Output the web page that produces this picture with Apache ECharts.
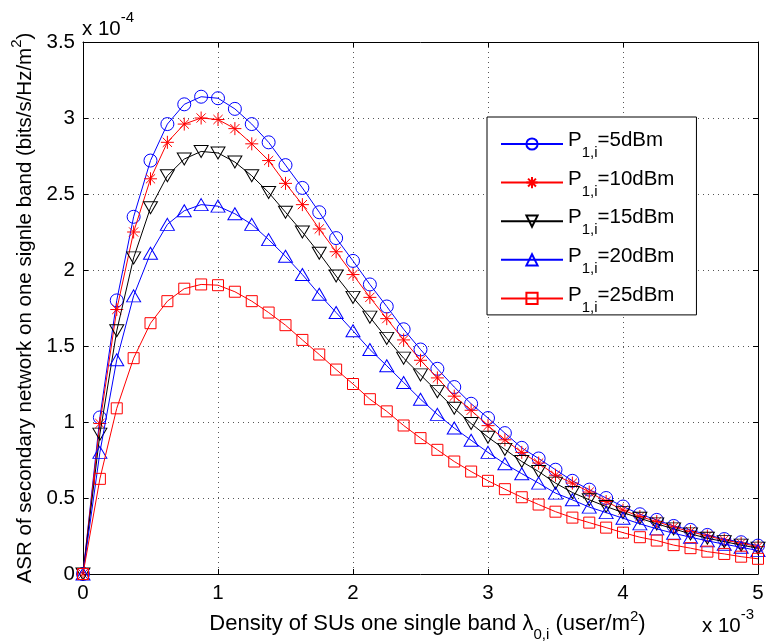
<!DOCTYPE html>
<html>
<head>
<meta charset="utf-8">
<script src="https://cdn.jsdelivr.net/npm/echarts@6/dist/echarts.min.js"></script>
<style>
html,body{margin:0;padding:0;background:#fff;}
#chart{width:766px;height:642px;}
</style>
</head>
<body>
<div id="chart"></div>
<script>
// Density of SUs (x 10^-3 user/m^2)
const densities = [0, 0.125, 0.25, 0.375, 0.5, 0.625, 0.75, 0.875, 1, 1.125, 1.25, 1.375, 1.5, 1.625, 1.75, 1.875, 2, 2.125, 2.25, 2.375, 2.5, 2.625, 2.75, 2.875, 3, 3.125, 3.25, 3.375, 3.5, 3.625, 3.75, 3.875, 4, 4.125, 4.25, 4.375, 4.5, 4.625, 4.75, 4.875, 5];
// ASR (x 10^-4 bits/s/Hz/m^2)
const asr5dBm = [0, 1.03, 1.80, 2.35, 2.72, 2.96, 3.09, 3.14, 3.13, 3.06, 2.96, 2.84, 2.69, 2.54, 2.38, 2.21, 2.06, 1.905, 1.76, 1.61, 1.477, 1.35, 1.23, 1.12, 1.026, 0.927, 0.83, 0.76, 0.686, 0.613, 0.555, 0.50, 0.444, 0.393, 0.356, 0.316, 0.29, 0.257, 0.23, 0.209, 0.187];
const asr10dBm = [0, 0.99, 1.74, 2.25, 2.60, 2.84, 2.96, 3.00, 2.99, 2.93, 2.83, 2.72, 2.57, 2.43, 2.27, 2.12, 1.97, 1.82, 1.68, 1.54, 1.406, 1.29, 1.17, 1.077, 0.976, 0.883, 0.80, 0.73, 0.65, 0.598, 0.539, 0.477, 0.42, 0.378, 0.345, 0.308, 0.279, 0.25, 0.224, 0.202, 0.18];
const asr15dBm = [0, 0.92, 1.60, 2.08, 2.41, 2.62, 2.73, 2.78, 2.77, 2.71, 2.62, 2.51, 2.38, 2.25, 2.11, 1.96, 1.82, 1.69, 1.55, 1.42, 1.31, 1.20, 1.09, 0.99, 0.90, 0.82, 0.74, 0.674, 0.598, 0.536, 0.488, 0.444, 0.404, 0.367, 0.33, 0.297, 0.264, 0.235, 0.213, 0.19, 0.17];
const asr20dBm = [0, 0.80, 1.41, 1.83, 2.11, 2.30, 2.39, 2.43, 2.42, 2.37, 2.30, 2.20, 2.09, 1.97, 1.84, 1.72, 1.60, 1.477, 1.37, 1.26, 1.15, 1.05, 0.96, 0.88, 0.80, 0.725, 0.66, 0.598, 0.532, 0.488, 0.44, 0.404, 0.367, 0.33, 0.297, 0.268, 0.242, 0.218, 0.196, 0.176, 0.154];
const asr25dBm = [0, 0.626, 1.09, 1.42, 1.65, 1.795, 1.877, 1.905, 1.90, 1.857, 1.795, 1.72, 1.637, 1.54, 1.444, 1.345, 1.25, 1.15, 1.07, 0.977, 0.894, 0.817, 0.74, 0.674, 0.613, 0.558, 0.505, 0.457, 0.41, 0.371, 0.338, 0.305, 0.272, 0.242, 0.22, 0.19, 0.17, 0.147, 0.132, 0.114, 0.10];
const powerLabels = ['5dBm', '10dBm', '15dBm', '20dBm', '25dBm'];
const xTickLabels = ['0', '1', '2', '3', '4', '5'];
const yTickLabels = ['0', '0.5', '1', '1.5', '2', '2.5', '3', '3.5'];

const FONT = 'Liberation Sans, Arial, Helvetica, sans-serif';
const FS_TICK = 20.5;
const FS_X = 22;
const FS_Y = 20.5;
const FS_LEG = 20.5;
const FS_SUB = 15;

const STAR = 'path://M0,-10L0,10M-10,0L10,0M-7.07,-7.07L7.07,7.07M-7.07,7.07L7.07,-7.07';
const TRI_UP = 'path://M0,-10L10,8L-10,8Z';
const TRI_DOWN = 'path://M-10,-8L10,-8L0,10Z';

const seriesDefs = [
  {data: asr5dBm, color: '#0000ff', symbol: 'circle', size: 13},
  {data: asr10dBm, color: '#ff0000', symbol: STAR, size: 13},
  {data: asr15dBm, color: '#000000', symbol: TRI_DOWN, size: [14, 12]},
  {data: asr20dBm, color: '#0000ff', symbol: TRI_UP, size: [14, 12]},
  {data: asr25dBm, color: '#ff0000', symbol: 'rect', size: 11}
];

const series = seriesDefs.map((d, k) => ({
  name: 'P1,i=' + powerLabels[k],
  type: 'line',
  data: densities.map((x, i) => [x, d.data[i]]),
  symbol: d.symbol,
  symbolSize: d.size,
  showAllSymbol: true,
  lineStyle: {color: d.color, width: 1},
  itemStyle: {color: 'rgba(0,0,0,0)', borderColor: d.color, borderWidth: 1},
  emphasis: {disabled: true},
  clip: false,
  z: 2 + k
}));

const tickFmt = (labels, step) => (v) => {
  const i = Math.round(v / step);
  return labels[i] !== undefined ? labels[i] : '';
};

const gridLine = {show: true, lineStyle: {color: '#555', width: 1, type: [1, 4]}};

const chart = echarts.init(document.getElementById('chart'), null, {renderer: 'canvas'});
chart.setOption({
  animation: false,
  backgroundColor: '#fff',
  textStyle: {fontFamily: FONT},
  grid: {left: 83, right: 8, top: 42, bottom: 68, containLabel: false, outerBoundsMode: 'none'},
  xAxis: [{
    type: 'value', min: 0, max: 5, interval: 1, position: 'bottom',
    axisLine: {show: true, onZero: false, lineStyle: {color: '#000', width: 1}},
    axisTick: {show: true, inside: true, length: 5, lineStyle: {color: '#000'}},
    axisLabel: {show: true, margin: 9, fontSize: FS_TICK, color: '#000', fontFamily: FONT,
      showMinLabel: true, showMaxLabel: true, formatter: tickFmt(xTickLabels, 1)},
    splitLine: gridLine,
    name: '{t|Density of SUs one single band λ}{s|0,i}{t| (user/m}{u|2}{t|)}',
    nameLocation: 'middle', nameGap: 31,
    nameTextStyle: {
      color: '#000', fontFamily: FONT, fontSize: FS_X,
      padding: [0, 0, 0, 14],
      rich: {
        t: {fontSize: FS_X, fontFamily: FONT, color: '#000'},
        s: {fontSize: FS_SUB, fontFamily: FONT, color: '#000', padding: [20, 0, 0, 0]},
        u: {fontSize: FS_SUB, fontFamily: FONT, color: '#000', padding: [0, 0, 16, 0]}
      }
    }
  }, {
    type: 'value', min: 0, max: 5, interval: 1, position: 'top',
    axisLine: {show: true, onZero: false, lineStyle: {color: '#000', width: 1}},
    axisTick: {show: true, inside: true, length: 5, lineStyle: {color: '#000'}},
    axisLabel: {show: false},
    splitLine: {show: false}
  }],
  yAxis: [{
    type: 'value', min: 0, max: 3.5, interval: 0.5, position: 'left',
    axisLine: {show: true, onZero: false, lineStyle: {color: '#000', width: 1}},
    axisTick: {show: true, inside: true, length: 5, lineStyle: {color: '#000'}},
    axisLabel: {show: true, margin: 8, fontSize: FS_TICK, color: '#000', fontFamily: FONT,
      showMinLabel: true, showMaxLabel: true, formatter: tickFmt(yTickLabels, 0.5)},
    splitLine: gridLine,
    name: '{t|ASR of secondary network on one signle band (bits/s/Hz/m}{u|2}{t|)}',
    nameLocation: 'middle', nameGap: 40, nameRotate: 90,
    nameTextStyle: {
      color: '#000', fontFamily: FONT, fontSize: FS_Y,
      rich: {
        t: {fontSize: FS_Y, fontFamily: FONT, color: '#000'},
        u: {fontSize: FS_SUB, fontFamily: FONT, color: '#000', padding: [0, 0, 16, 0]}
      }
    }
  }, {
    type: 'value', min: 0, max: 3.5, interval: 0.5, position: 'right',
    axisLine: {show: true, onZero: false, lineStyle: {color: '#000', width: 1}},
    axisTick: {show: true, inside: true, length: 5, lineStyle: {color: '#000'}},
    axisLabel: {show: false},
    splitLine: {show: false}
  }],
  legend: {
    orient: 'vertical', left: 487, top: 117,
    padding: [13, 22, 0, 13],
    itemWidth: 62, itemHeight: 14, itemGap: 8.1,
    backgroundColor: '#fff', borderColor: '#000', borderWidth: 1, borderRadius: 0,
    selectedMode: false,
    formatter: (name) => '{p|P}{s|1,i}{p|' + name.replace('P1,i', '') + '}',
    textStyle: {
      color: '#000', fontFamily: FONT, fontSize: FS_LEG,
      rich: {
        p: {fontSize: FS_LEG, fontFamily: FONT, color: '#000', padding: [0, 0, 7, 0]},
        s: {fontSize: FS_SUB, fontFamily: FONT, color: '#000', padding: [18, 0, 0, 0]}
      }
    },
    data: series.map(s => s.name)
  },
  graphic: [{
    type: 'text', left: 82, top: 10, z: 10,
    style: {
      text: '{a|x 10}{b|-4}',
      rich: {
        a: {fontSize: FS_TICK, fontFamily: FONT, fill: '#000'},
        b: {fontSize: FS_SUB, fontFamily: FONT, fill: '#000', padding: [0, 0, 24, 0]}
      }
    }
  }, {
    type: 'text', left: 702, top: 607, z: 10,
    style: {
      text: '{a|x 10}{b|-3}',
      rich: {
        a: {fontSize: FS_TICK, fontFamily: FONT, fill: '#000'},
        b: {fontSize: FS_SUB, fontFamily: FONT, fill: '#000', padding: [0, 0, 24, 0]}
      }
    }
  }],
  series: series
});
</script>
</body>
</html>
